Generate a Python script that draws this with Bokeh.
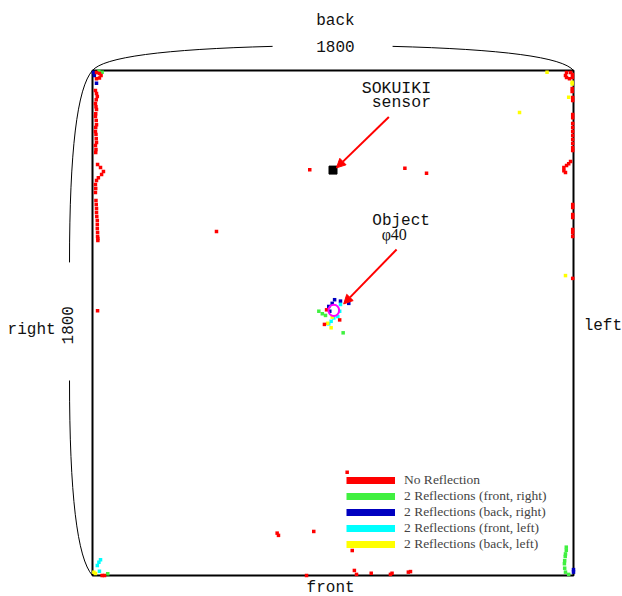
import math
from bokeh.plotting import figure
from bokeh.models import Range1d, Label, Arrow, NormalHead, Legend, LegendItem
from bokeh.embed import file_html
from bokeh.resources import INLINE

# ---------------- data (mm, room 1800 x 1800) ----------------
ROOM = 1800
ROOM_LABEL = "1800"

sensor_x = [900]
sensor_y = [1445]

object_x = [903]
object_y = [945]
object_d = [40]

no_refl_x = [15, 26, 32, 26, 15,
             11, 15, 18, 14, 11, 13, 15, 12, 11, 14, 15, 12, 11, 13, 14, 15, 11, 13, 12,
             19, 30, 41, 34, 22, 15,
             11, 12, 11, 13, 14, 15, 15, 16, 18, 18, 18, 19, 19, 20, 20,
             1774, 1770, 1774, 1785, 1796, 1796, 1789,
             1795, 1795, 1797, 1797, 1797, 1797, 1797, 1797, 1797, 1797, 1797, 1797, 1797, 1797,
             1789, 1782, 1774, 1764, 1764, 1770,
             1797, 1797, 1797, 1797, 1797, 1797, 1797, 1797,
             813, 1169, 1250, 464, 19,
             876, 925, 868,
             953, 691, 696, 828, 972, 980, 988, 1043, 1115, 1121, 1182, 1190, 801, 36, 45]
no_refl_y = [1793, 1789, 1782, 1773, 1771,
             1729, 1718, 1707, 1696, 1682, 1671, 1661, 1646, 1636, 1622, 1607, 1597, 1583, 1572, 1557, 1543, 1533, 1518, 1508,
             1465, 1454, 1440, 1429, 1418, 1408,
             1394, 1379, 1365, 1337, 1322, 1308, 1294, 1280, 1265, 1251, 1237, 1223, 1208, 1194, 1201,
             1793, 1782, 1775, 1771, 1775, 1786, 1793,
             1736, 1725, 1704, 1693, 1643, 1632, 1611, 1597, 1583, 1568, 1554, 1540, 1525, 1515,
             1476, 1468, 1461, 1454, 1443, 1436,
             1322, 1312, 1287, 1276, 1233, 1222, 1208, 1059,
             1446, 1452, 1434, 1226, 944,
             947, 911, 895,
             368, 151, 143, 157, 89, 18, 4, 8, 4, 8, 12, 14, 0, 0, 0]

front_right_x = [24, 36, 847, 860, 872, 938, 57,
                 1773, 1773, 1770, 1769, 1767, 1766, 1767, 1770, 1782]
front_right_y = [1797, 1794, 942, 933, 927, 865, 6,
                 101, 90, 77, 68, 53, 42, 26, 12, 4]

back_right_x = [4, 7, 15, 906, 897, 928, 959, 884, 888, 1800, 1800]
back_right_y = [1793, 1782, 1755, 983, 970, 978, 970, 959, 942, 12, 21]

front_left_x = [30, 24, 18, 26, 928, 925, 918, 903, 893, 884]
front_left_y = [56, 47, 36, 15, 966, 942, 923, 918, 906, 897]

back_left_x = [1701, 1795, 1795, 1782, 1770, 1598, 5, 11, 897, 893, 880]
back_left_y = [1794, 1758, 1752, 1705, 1069, 1650, 12, 7, 921, 883, 899]

series_labels = ["No Reflection", "2 Reflections (front, right)", "2 Reflections (back, right)",
                 "2 Reflections (front, left)", "2 Reflections (back, left)"]
series_colors = ["#ff0000", "#40f040", "#0000c0", "#00ffff", "#ffff00"]

# ---------------- figure ----------------
W, H = 622, 596
ux = ROOM / 481.0
uy = ROOM / 505.0
p = figure(width=W, height=H, output_backend="svg", toolbar_location=None,
           x_range=Range1d(-92 * ux, ROOM + (W - 573) * ux),
           y_range=Range1d(-(H - 575) * uy, ROOM + 70 * uy),
           x_axis_location=None, y_axis_location=None, min_border=0)
p.grid.visible = False
p.outline_line_color = None
p.background_fill_color = "white"
p.border_fill_color = "white"

# room box
p.quad(left=[0], right=[ROOM], bottom=[0], top=[ROOM], fill_color=None,
       line_color="black", line_width=2)

# dimension braces
p.quadratic(x0=[0, 1123, 0, -86], y0=[ROOM, 1886, ROOM, 695],
            x1=[674, ROOM, -86, 0], y1=[1886, ROOM, 1116, 0],
            cx=[60, 1740, -86, -86], cy=[1871, 1871, 1711, 89],
            line_color="black", line_width=1)

# scatter series
series = [(no_refl_x, no_refl_y), (front_right_x, front_right_y), (back_right_x, back_right_y),
          (front_left_x, front_left_y), (back_left_x, back_left_y)]
order = [1, 2, 3, 4, 0]
for i in order:
    xs, ys = series[i]
    p.scatter(xs, ys, marker="square", size=3.5, fill_color=series_colors[i],
              line_color=None)

# object circle
p.ellipse(x=object_x, y=object_y, width=object_d, height=object_d, fill_color=None,
          line_color="#ff00ff", line_width=2)

# sensor
p.scatter(sensor_x, sensor_y, marker="square", size=8, fill_color="black", line_color="black")

# arrows
p.add_layout(Arrow(end=NormalHead(size=9, fill_color="red", line_color="red"),
                   x_start=1109, y_start=1634, x_end=913, y_end=1453,
                   line_color="red", line_width=2))
p.add_layout(Arrow(end=NormalHead(size=9, fill_color="red", line_color="red"),
                   x_start=1138, y_start=1162, x_end=940, y_end=968,
                   line_color="red", line_width=2))

mono = "Liberation Mono"
def lab(x, y, t, align="center", size="16px", font=mono, angle=0.0):
    p.add_layout(Label(x=x, y=y, text=t, text_font=font, text_font_size=size,
                       text_align=align, text_baseline="alphabetic", angle=angle,
                       text_color="#111111"))

lab(909, 1976, "back")
lab(909, 1884, ROOM_LABEL)
lab(-138, 874, "right", align="right")
lab(-95, 892, ROOM_LABEL, angle=math.pi / 2)
lab(1838, 891, "left", align="left")
lab(891, -44, "front")
lab(1267, 1735, "SOKUIKI", align="right", size="16.5px")
lab(1267, 1685, "sensor", align="right", size="16.5px")
lab(1047, 1263, "Object", align="left")
lab(1082, 1214, "\u03c640", align="left", size="16px", font="Liberation Serif")

# legend with bar proxies
nan = float("nan")
items = []
for lbl, col in zip(series_labels, series_colors):
    r = p.line(x=[nan, nan], y=[nan, nan], line_color=col, line_width=7)
    items.append(LegendItem(label=lbl, renderers=[r]))
legend = Legend(items=items, location=(346, 44), padding=0, margin=0,
                spacing=0, glyph_width=49, glyph_height=16, label_height=16,
                label_standoff=9, label_text_font="Liberation Serif",
                label_text_font_size="13.5px", border_line_color=None,
                background_fill_alpha=0)
p.add_layout(legend)

open("out.html", "w").write(file_html(p, INLINE))
